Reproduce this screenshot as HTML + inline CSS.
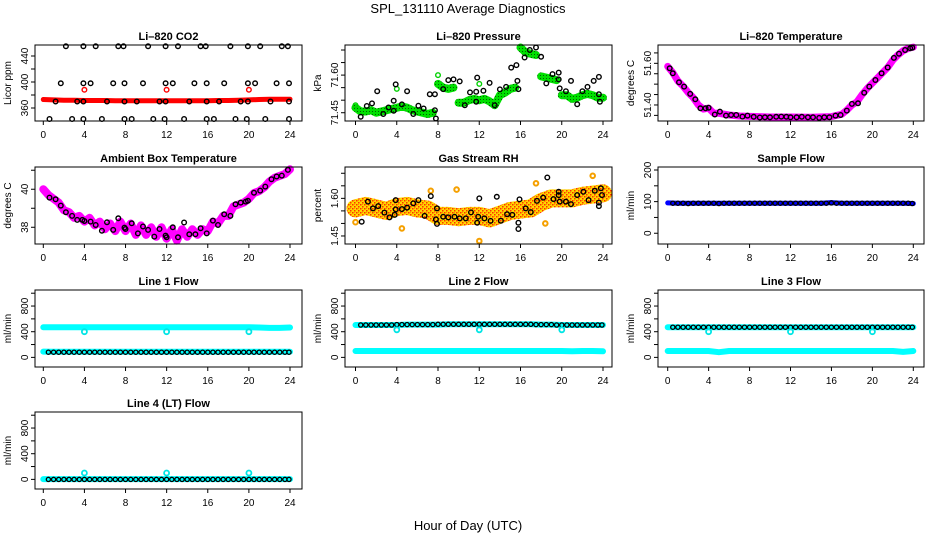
<!DOCTYPE html>
<html><head><meta charset="utf-8"><style>
html,body{margin:0;padding:0;background:#fff}
svg{display:block}
text{font-family:"Liberation Sans",sans-serif;fill:#000}
.t{font-size:11px;font-weight:bold}
.tk{font-size:10px}
.yl{font-size:10px}
</style></head><body>
<svg id="c" width="936" height="540" viewBox="0 0 936 540">
<defs>
<pattern id="rhpat" width="4" height="4" patternUnits="userSpaceOnUse">
<rect width="4" height="4" fill="#ffd800"/><rect width="1.5" height="1.5" fill="#ff3000"/><rect x="2" y="2" width="1.5" height="1.5" fill="#ff3000"/><rect x="2" y="0" width="1" height="1" fill="#ff9000"/>
</pattern>
<pattern id="grpat" width="3" height="3" patternUnits="userSpaceOnUse">
<rect width="3" height="3" fill="#00e000"/><rect width="1" height="1" fill="#006000"/>
</pattern>
</defs>
<text x="468" y="13" text-anchor="middle" font-size="13">SPL_131110  Average Diagnostics</text>
<text x="468" y="530" text-anchor="middle" font-size="13">Hour of Day (UTC)</text>
</svg>
<script>
// ---------- data ----------
const xTicks = [0,4,8,12,16,20,24];
const H48 = [0.5,1,1.5,2,2.5,3,3.5,4,4.5,5,5.5,6,6.5,7,7.5,8,8.5,9,9.5,10,10.5,11,11.5,12,12.5,13,13.5,14,14.5,15,15.5,16,16.5,17,17.5,18,18.5,19,19.5,20,20.5,21,21.5,22,22.5,23,23.5,23.9];
const H25 = [0,1,2,3,4,5,6,7,8,9,10,11,12,13,14,15,16,17,18,19,20,21,22,23,24];
const H49 = [0,0.5,1,1.5,2,2.5,3,3.5,4,4.5,5,5.5,6,6.5,7,7.5,8,8.5,9,9.5,10,10.5,11,11.5,12,12.5,13,13.5,14,14.5,15,15.5,16,16.5,17,17.5,18,18.5,19,19.5,20,20.5,21,21.5,22,22.5,23,23.5,24];
const outlierHours = [4,12,20];

// CO2
const co2BandVals = [373,372.5,372,372,371.5,371.5,371.5,371,371,371,371,371,371,371,371,371,371,371.5,371.5,372,372.5,373,373.5,373.5,373.5];
const co2Hours = [2.2,3.9,5.1,7.3,7.8,10.2,11.9,13.1,15.3,15.8,18.2,19.9,21.1,23.2,23.8, 1.7,3.9,4.6,6.8,7.9,9.7,11.9,12.6,14.7,15.9,17.6,19.9,20.6,22.7,23.9, 1.2,3.3,3.9,6.2,7.9,9.1,11.3,11.9,14.2,15.9,17.1,19.2,19.9,22.1,23.9, 0.6,2.8,3.9,5.7,7.9,8.6,10.7,11.8,13.7,15.9,16.6,18.7,19.8,21.6,23.9];
const co2Vals = [455,455,455,455,455,455,455,455,455,455,455,455,455,455,455, 398,398,398,398,398,398,398,398,398,398,398,398,398,398,398, 370,370,370,370,370,370,370,370,370,370,370,370,370,370,370, 343,343,343,343,343,343,343,343,343,343,343,343,343,343,343];
const co2Outliers = [388,388,388];

// Pressure
const presBand = [71.47,71.455,71.455,71.46,71.45,71.455,71.46,71.465,71.47,71.475,71.47,71.46,71.455,71.45,71.445,71.45,71.565,71.55,71.545,71.55,71.49,71.49,71.5,71.505,71.5,71.505,71.495,71.48,71.52,71.53,71.545,71.55,71.71,71.69,71.685,71.68,71.595,71.59,71.585,71.58,71.52,71.52,71.505,71.51,71.52,71.525,71.52,71.51,71.51];
const presHours = [0.5,1.1,1.6,2.1,2.7,3.2,3.7,3.9,3.7,4.5,5.0,5.6,6.1,6.6,7.2,7.7,7.7,7.8,8.5,9.0,9.5,10.1,10.6,11.1,11.7,11.7,11.8,12.4,13.0,13.5,14.0,14.6,15.1,15.6,15.7,15.8,16.4,16.9,17.5,18.0,18.5,19.1,19.7,19.7,19.8,20.4,20.9,21.5,22.0,22.5,23.1,23.6,23.6,23.7];
const presVals = [71.434,71.477,71.487,71.536,71.445,71.471,71.498,71.563,71.458,71.483,71.536,71.445,71.478,71.467,71.524,71.524,71.46,71.427,71.544,71.58,71.583,71.575,71.48,71.531,71.534,71.494,71.59,71.538,71.569,71.48,71.543,71.553,71.63,71.64,71.577,71.544,71.67,71.70,71.71,71.673,71.567,71.604,71.61,71.583,71.547,71.536,71.577,71.484,71.536,71.553,71.577,71.593,71.524,71.494];
const presGreenHours = [0,4,8,12];
const presGreenVals = [71.48,71.545,71.60,71.565];

// Li-820 temperature
const tempHours = [0.2,0.5,1.1,1.6,2.2,2.7,3.2,3.7,4.0,4.6,5.1,5.7,6.2,6.7,7.3,7.8,8.4,9,9.5,10,10.6,11.1,11.6,12,12.6,13.1,13.7,14.2,14.8,15.3,15.8,16.4,16.9,17.5,18,18.6,19.2,19.7,20.3,20.9,21.5,22.1,22.6,23.2,23.7,23.9];
const tempVals = [51.576,51.552,51.509,51.488,51.453,51.427,51.384,51.384,51.387,51.354,51.368,51.349,51.352,51.352,51.344,51.349,51.343,51.34,51.341,51.341,51.343,51.344,51.343,51.341,51.341,51.343,51.341,51.341,51.338,51.341,51.341,51.349,51.352,51.373,51.405,51.408,51.459,51.488,51.52,51.552,51.58,51.626,51.646,51.664,51.672,51.675];
const tempBandHours = [0,0.5,1,1.5,2,2.5,3,3.5,4,4.5,5,6,7,8,10,12,14,16,16.5,17,17.5,18,18.5,19,19.5,20,20.5,21,21.5,22,22.5,23,23.5,24];
const tempBandVals = [51.585,51.555,51.515,51.49,51.46,51.435,51.4,51.38,51.385,51.36,51.36,51.352,51.347,51.345,51.342,51.342,51.341,51.344,51.35,51.355,51.375,51.4,51.415,51.45,51.48,51.505,51.53,51.555,51.58,51.615,51.64,51.66,51.672,51.678];

// Ambient box temperature
const ambBand = [40.0,39.7,39.5,39.3,38.9,38.8,38.5,38.6,38.3,38.5,38.1,38.3,37.9,38.2,37.8,38.3,37.8,38.2,37.6,38.1,37.6,38.0,37.5,38.0,37.4,37.9,37.3,37.9,37.5,37.9,37.6,37.9,37.8,38.3,38.2,38.6,38.6,39.1,39.2,39.3,39.5,39.8,39.9,40.1,40.4,40.6,40.7,40.8,41.05];
const ambHours = [0.6,1.2,1.7,2.2,2.8,3.3,3.8,4.0,4.6,5.1,5.7,6.2,6.8,7.3,7.9,8.0,8.6,9.2,9.7,10.2,10.8,11.3,11.9,12.0,12.6,13.1,13.7,14.2,14.8,15.3,15.9,16.5,17.0,17.6,18.2,18.7,19.2,19.7,19.9,20.5,21.1,21.6,22.2,22.7,23.2,23.8];
const ambVals = [39.56,39.47,39.14,38.79,38.6,38.39,38.39,38.33,38.3,38.12,37.82,38.26,37.86,38.47,37.98,37.91,38.21,37.68,38.04,37.86,37.51,37.91,37.56,37.47,38.0,37.47,38.25,37.63,37.63,37.95,37.68,38.35,38.12,38.68,38.6,39.21,39.3,39.35,39.39,39.82,39.93,40.14,40.53,40.67,40.72,41.02];

// Gas stream RH
const rhBand = [1.56,1.57,1.56,1.55,1.565,1.57,1.56,1.555,1.53,1.53,1.525,1.53,1.53,1.52,1.535,1.55,1.555,1.56,1.585,1.6,1.6,1.6,1.61,1.615,1.62];
const rhOutHours = [0,4.5,12,18.4,23,7.3,9.8,17.5];
const rhOutVals = [1.505,1.48,1.43,1.50,1.69,1.63,1.635,1.66];
const rhHours = [0.6,1.2,1.7,2.2,2.8,3.3,3.9,3.9,3.8,4.5,5.0,5.6,6.1,6.7,7.3,7.9,7.8,7.9,8.5,9.0,9.6,10.1,10.7,11.2,11.8,11.9,12.0,12.5,13.1,13.7,14.1,14.7,15.2,15.9,15.8,15.8,16.5,17.0,17.6,18.2,18.6,19.2,19.7,19.7,19.8,20.4,20.9,21.5,22.1,22.6,23.2,23.6,23.6,23.8,23.9];
const rhVals = [1.507,1.587,1.56,1.569,1.543,1.524,1.593,1.556,1.534,1.557,1.563,1.58,1.593,1.53,1.609,1.56,1.516,1.498,1.527,1.524,1.527,1.52,1.52,1.544,1.503,1.527,1.6,1.52,1.51,1.606,1.511,1.537,1.534,1.596,1.503,1.478,1.56,1.545,1.59,1.603,1.683,1.597,1.626,1.613,1.587,1.587,1.577,1.613,1.626,1.593,1.63,1.583,1.569,1.64,1.613];

// Sample flow
const sfBand = [96,95,95,95,95,95,95,95,95,95,95,95,95,95,95,95,97,95,95,95,95,95,95,95,94];
const sfVals = [95,95,95,94,95,95,95,95,95,94,95,95,95,95,95,95,95,95,95,95,95,95,95,95,95,95,95,95,95,95,95,96,95,95,95,95,95,95,95,95,95,95,95,95,95,95,95,94];

// Line flows
const l1High = [470,470,470,470,470,470,470,470,470,470,470,470,470,470,470,470,470,470,470,470,470,465,460,460,465];
const l1Low  = [90,88,88,88,88,88,88,88,88,88,88,88,88,88,88,88,88,88,88,88,88,88,88,88,88];
const l1Black = [80,80,80,80,80,80,80,80,80,80,80,80,80,80,80,80,80,80,80,80,80,80,80,80,80,80,80,80,80,80,80,80,80,80,80,80,80,80,80,80,80,80,80,80,80,80,80,80];
const l1Out = [400,400,400];

const l2High = [505,505,505,505,505,510,510,510,510,515,515,515,515,515,515,515,515,515,510,510,505,505,505,505,505];
const l2Low  = [100,100,100,100,100,100,100,100,100,100,100,100,100,100,100,100,100,100,100,100,100,95,100,100,95];
const l2Black = [505,505,505,505,505,505,505,510,510,510,510,510,510,510,510,515,515,515,515,515,515,515,515,515,515,515,515,515,515,515,515,515,515,515,510,510,510,510,505,505,505,505,505,505,505,505,505,505];
const l2Out = [430,430,430];

const l3High = [470,470,470,470,470,470,470,470,470,470,470,470,470,470,470,470,470,470,470,470,470,470,470,470,470];
const l3Low  = [100,100,100,100,100,80,100,100,100,100,100,100,100,100,100,100,100,100,100,100,100,100,100,85,100];
const l3Black = [470,470,470,470,470,470,470,470,470,470,470,470,470,470,470,470,470,470,470,470,470,470,470,470,470,470,470,470,470,470,470,470,470,470,470,470,470,470,470,470,470,470,470,470,470,470,470,470];
const l3Out = [400,400,400];

const l4Band = [5,5,5,5,5,5,5,5,5,5,5,5,5,5,5,5,5,5,5,5,5,5,5,5,5];
const l4Black = [0,0,0,0,0,0,0,0,0,0,0,0,0,0,0,0,0,0,0,0,0,0,0,0,0,0,0,0,0,0,0,0,0,0,0,0,0,0,0,0,0,0,0,0,0,0,0,0];
const l4Out = [100,100,100];

// ---------- drawing ----------
const NS = 'http://www.w3.org/2000/svg';
const svg = document.getElementById('c');
function mk(tag, attrs, parent){
  const e = document.createElementNS(NS, tag);
  for (const k in attrs) e.setAttribute(k, attrs[k]);
  (parent||svg).appendChild(e);
  return e;
}
const cols = [{x0:35,x1:302,h0:43.3,h24:290},{x0:345,x1:612,h0:355.5,h24:603},{x0:658,x1:924,h0:667.7,h24:913.3}];
const rows = [{y0:45,y1:121},{y0:167,y1:244},{y0:290,y1:367},{y0:412,y1:489}];

function panel(name, title, ylab, col, row, ymin, ymax, yticks, ylabels){
  const c = cols[col], r = rows[row];
  const g = mk('g', {});
  
  
  const sx = h => c.h0 + (h/24)*(c.h24 - c.h0);
  const sy = v => r.y1 - (v - ymin)/(ymax - ymin)*(r.y1 - r.y0);
  const cx = (c.x0 + c.x1)/2;
  const t = mk('text', {x:cx, y:r.y0-5, 'text-anchor':'middle', class:'t'}, g);
  t.textContent = title;
  
  
  const yl = mk('text', {x:0, y:0, 'text-anchor':'middle', class:'yl', transform:`translate(${c.x0-24},${(r.y0+r.y1)/2}) rotate(-90)`}, g);
  yl.textContent = ylab;
  
  
  const plot = mk('g', {}, g);
  xTicks.forEach(h => {
    mk('line', {x1:sx(h), x2:sx(h), y1:r.y1, y2:r.y1+4, stroke:'#000', 'stroke-width':1}, g);
    const tx = mk('text', {x:sx(h), y:r.y1+17, 'text-anchor':'middle', class:'tk'}, g);
    tx.textContent = h;
    
    
  });
  yticks.forEach(v => {
    mk('line', {x1:c.x0-4, x2:c.x0, y1:sy(v), y2:sy(v), stroke:'#000', 'stroke-width':1}, g);
  });
  ylabels.forEach(v => {
    const ty = mk('text', {x:0, y:0, 'text-anchor':'middle', class:'tk', transform:`translate(${c.x0-7},${sy(v)}) rotate(-90)`}, g);
    ty.textContent = (typeof v === 'number' && v % 1 !== 0) ? v.toFixed(2) : v;
    
    
  });
  const box = mk('rect', {x:c.x0, y:r.y0, width:c.x1-c.x0, height:r.y1-r.y0, fill:'none', stroke:'#000', 'stroke-width':1}, g);
  
  
  return {sx, sy, g:plot};
}
function band(p, name, hours, vals, color, w, breakAt){
  let segs = [[]];
  for (let i=0;i<hours.length;i++){
    if (breakAt && i>0 && Math.abs(vals[i]-vals[i-1])>breakAt) segs.push([]);
    segs[segs.length-1].push(p.sx(hours[i]).toFixed(1)+','+p.sy(vals[i]).toFixed(1));
  }
  segs.forEach(s => {
    const pl = mk('polyline', {points:s.join(' '), fill:'none', stroke:color, 'stroke-width':w, 'stroke-linecap':'round', 'stroke-linejoin':'round'}, p.g);
    
    
  });
}
function pts(p, name, hours, vals, color, r, sw){
  for (let i=0;i<hours.length;i++){
    const e = mk('circle', {cx:p.sx(hours[i]).toFixed(1), cy:p.sy(vals[i]).toFixed(1), r:r||2.3, fill:'none', stroke:color, 'stroke-width':sw||1.4}, p.g);
    
    
  }
}

let p = panel('co2-panel','Li\u2013820 CO2','Licor ppm',0,0,340,456.9,[360,380,400,420,440],[360,400,440]);
band(p,'co2-band',H25,co2BandVals,'#ff0000',5);
pts(p,'co2-point',co2Hours,co2Vals,'#000');
pts(p,'co2-outlier',outlierHours,co2Outliers,'#ff0000');

p = panel('pressure-panel','Li\u2013820 Pressure','kPa',1,0,71.417,71.72,[71.45,71.50,71.55,71.60,71.65,71.70],[71.45,71.60]);
band(p,'pressure-band',H49,presBand,'url(#grpat)',8,0.04);
pts(p,'pressure-green-point',presGreenHours,presGreenVals,'#00d000');
pts(p,'pressure-point',presHours,presVals,'#000');

p = panel('li820-temp-panel','Li\u2013820 Temperature','degrees C',2,0,51.323,51.688,[51.35,51.40,51.45,51.50,51.55,51.60,51.65],[51.40,51.60]);
band(p,'li820-temp-band',tempBandHours,tempBandVals,'#ff00ff',7);
pts(p,'li820-temp-point',tempHours,tempVals,'#000');

p = panel('ambient-temp-panel','Ambient Box Temperature','degrees C',0,1,37.12,41.17,[38,39,40,41],[38,40]);
band(p,'ambient-band',H49,ambBand,'#ff00ff',8);
pts(p,'ambient-point',ambHours,ambVals,'#000');

p = panel('rh-panel','Gas Stream RH','percent',1,1,1.418,1.725,[1.45,1.50,1.55,1.60,1.65,1.70],[1.45,1.60]);
band(p,'rh-band',H25,rhBand,'url(#rhpat)',18);
pts(p,'rh-outlier',rhOutHours,rhOutVals,'#f5a000',2.3,2);
pts(p,'rh-point',rhHours,rhVals,'#000');

p = panel('sample-flow-panel','Sample Flow','ml/min',2,1,-34,209.5,[0,50,100,150,200],[0,100,200]);
band(p,'sample-flow-band',H25,sfBand,'#0000ff',5);
pts(p,'sample-flow-point',H48,sfVals,'#000',2.1,1.3);

const fT = [0,200,400,600,800,1000], fL = [0,400,800];
p = panel('line1-flow-panel','Line 1 Flow','ml/min',0,2,-150,1050,fT,fL);
band(p,'line1-high-band',H25,l1High,'#00ffff',6);
band(p,'line1-low-band',H25,l1Low,'#00ffff',6);
pts(p,'line1-point',H48,l1Black,'#000',2.1,1.3);
pts(p,'line1-outlier',outlierHours,l1Out,'#00e5e5',2.5,1.8);

p = panel('line2-flow-panel','Line 2 Flow','ml/min',1,2,-150,1050,fT,fL);
band(p,'line2-high-band',H25,l2High,'#00ffff',6);
band(p,'line2-low-band',H25,l2Low,'#00ffff',6);
pts(p,'line2-point',H48,l2Black,'#000',2.1,1.3);
pts(p,'line2-outlier',outlierHours,l2Out,'#00e5e5',2.5,1.8);

p = panel('line3-flow-panel','Line 3 Flow','ml/min',2,2,-150,1050,fT,fL);
band(p,'line3-high-band',H25,l3High,'#00ffff',6);
band(p,'line3-low-band',H25,l3Low,'#00ffff',6);
pts(p,'line3-point',H48,l3Black,'#000',2.1,1.3);
pts(p,'line3-outlier',outlierHours,l3Out,'#00e5e5',2.5,1.8);

p = panel('line4-flow-panel','Line 4 (LT) Flow','ml/min',0,3,-150,1050,fT,fL);
band(p,'line4-band',H25,l4Band,'#00ffff',6);
pts(p,'line4-point',H48,l4Black,'#000',2.1,1.3);
pts(p,'line4-outlier',outlierHours,l4Out,'#00e5e5',2.5,1.8);
</script>
</body></html>
